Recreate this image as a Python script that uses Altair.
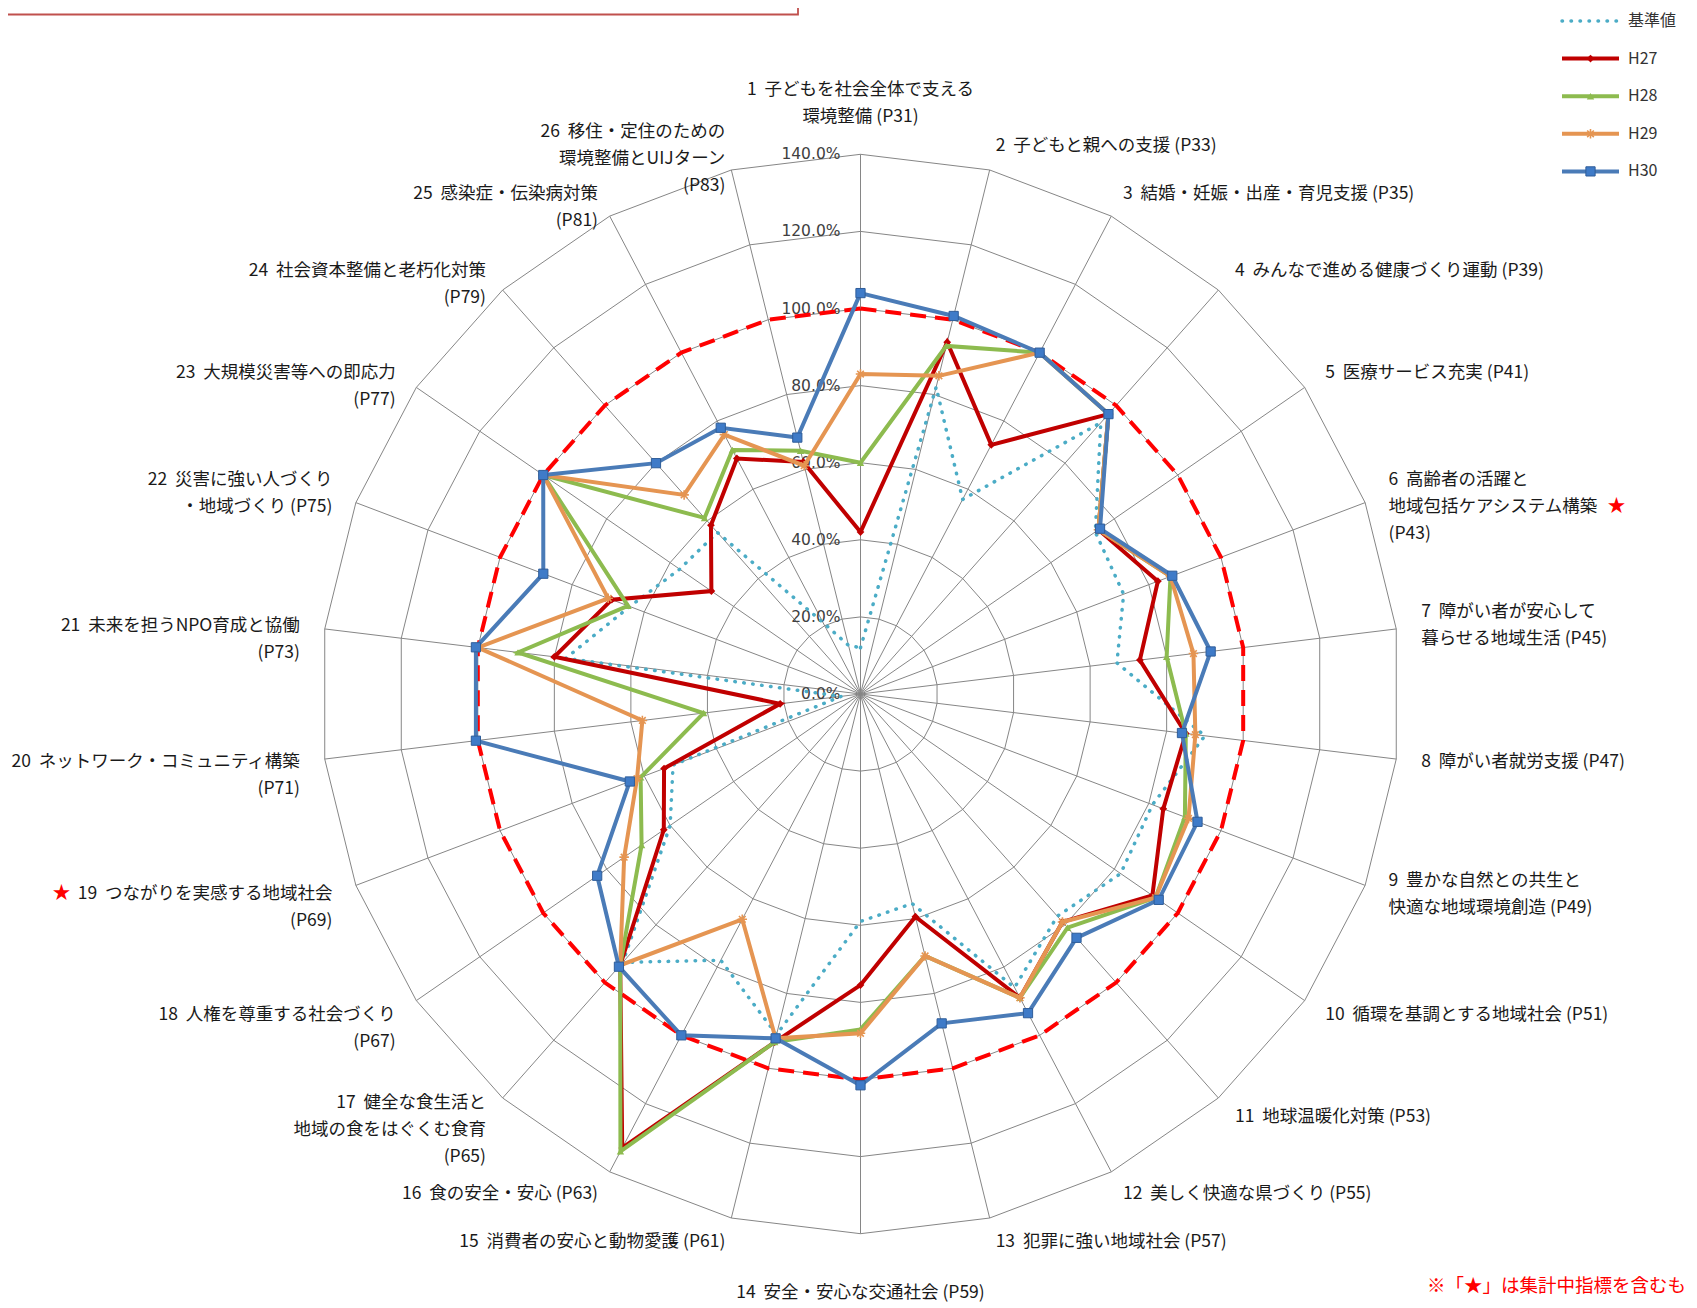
import math
import altair as alt
import pandas as pd

# ---------------- data ----------------
CATEGORIES = [
    "1  子どもを社会全体で支える\n環境整備 (P31)",
    "2  子どもと親への支援 (P33)",
    "3  結婚・妊娠・出産・育児支援 (P35)",
    "4  みんなで進める健康づくり運動 (P39)",
    "5  医療サービス充実 (P41)",
    "6  高齢者の活躍と\n地域包括ケアシステム構築\n(P43)",
    "7  障がい者が安心して\n暮らせる地域生活 (P45)",
    "8  障がい者就労支援 (P47)",
    "9  豊かな自然との共生と\n快適な地域環境創造 (P49)",
    "10  循環を基調とする地域社会 (P51)",
    "11  地球温暖化対策 (P53)",
    "12  美しく快適な県づくり (P55)",
    "13  犯罪に強い地域社会 (P57)",
    "14  安全・安心な交通社会 (P59)",
    "15  消費者の安心と動物愛護 (P61)",
    "16  食の安全・安心 (P63)",
    "17  健全な食生活と\n地域の食をはぐくむ食育\n(P65)",
    "18  人権を尊重する社会づくり\n(P67)",
    "19  つながりを実感する地域社会\n(P69)",
    "20  ネットワーク・コミュニティ構築\n(P71)",
    "21  未来を担うNPO育成と協働\n(P73)",
    "22  災害に強い人づくり\n・地域づくり (P75)",
    "23  大規模災害等への即応力\n(P77)",
    "24  社会資本整備と老朽化対策\n(P79)",
    "25  感染症・伝染病対策\n(P81)",
    "26  移住・定住のための\n環境整備とUIJターン\n(P83)",
]

SERIES = ["基準値", "H27", "H28", "H29", "H30"]

KIJUN = [12, 82, 57, 94, 74, 73, 67, 90, 81, 82, 77, 86, 56,
         59, 91, 78, 93, 60, 52, 5, 77, 64, 57, 56, 21, 13]
H27 = [42, 94, 73, 97, 75, 82.5, 73, 85, 84, 92, 79, 89, 59.5,
       75.5, 93, 133, 94, 62, 54.5, 21, 80, 69, 47, 58.5, 69, 62]
H28 = [60, 93, 100, 97, 75, 86, 80, 85, 90, 93, 81, 89, 70,
       87, 93, 134, 94, 69, 61, 41, 89.5, 64.5, 100, 61, 71.5, 65]
H29 = [83, 85, 100, 97, 75, 86, 87, 87.5, 91, 93, 79, 89, 70,
       88, 92, 66, 94, 74.5, 62, 57, 100, 70, 100, 69, 76, 61]
H30 = [104, 101, 100, 97, 75.5, 86.5, 91.5, 84, 93.5, 94, 84.5, 93.5, 88,
       101.5, 92, 100, 94.5, 83, 64, 100.5, 100.5, 88, 100, 80, 78, 68.5]

TARGET = 100.0
RING_VALUES = [0, 20, 40, 60, 80, 100, 120, 140]
TICK_LABELS = ["0.0%", "20.0%", "40.0%", "60.0%", "80.0%", "100.0%", "120.0%", "140.0%"]
STARRED = [6, 19]
FOOTNOTE = "※「★」は集計中指標を含むも"

# ---------------- layout ----------------
W, H = 1680, 1298
MARGIN = 8
CXP, CYP = 860.5, 694.0          # centre in page pixels
CX, CY = CXP - MARGIN, CYP - MARGIN
PX = 3.855                        # pixels per 1 %
N = len(CATEGORIES)
FS = 17.5
LH = 27
R_LABEL = 146.5

XS = alt.Scale(domain=[-CX / PX, (W - CX) / PX], nice=False, zero=False)
YS = alt.Scale(domain=[-(H - CY) / PX, CY / PX], nice=False, zero=False)


def px_x(p):
    return (p - MARGIN - CX) / PX


def px_y(p):
    return (CY - (p - MARGIN)) / PX


def xenc(f="x"):
    return alt.X(f"{f}:Q", scale=XS, axis=None)


def yenc(f="y"):
    return alt.Y(f"{f}:Q", scale=YS, axis=None)


CALC_X = "datum.value * sin(2 * PI * datum.k / %d)" % N
CALC_Y = "datum.value * cos(2 * PI * datum.k / %d)" % N


def closed(values, name):
    return pd.DataFrame([{"series": name, "order": j, "k": j % N, "value": values[j % N]}
                         for j in range(N + 1)])


COLORS = {"基準値": "#4BACC6", "H27": "#C00000", "H28": "#8DBB4F",
          "H29": "#E59552", "H30": "#4A7BB7"}
ASTER = "M-1,0L1,0M0,-1L0,1M-0.7,-0.7L0.7,0.7M-0.7,0.7L0.7,-0.7"
MARKERS = {
    "H27": dict(shape="diamond", size=60, filled=True, color=COLORS["H27"]),
    "H28": dict(shape="triangle-up", size=55, filled=True, color=COLORS["H28"]),
    "H29": dict(shape=ASTER, size=90, filled=False, color=COLORS["H29"], strokeWidth=1.6),
    "H30": dict(shape="square", size=85, filled=True, fill="#3F7BC8", stroke="#2F5D99",
                strokeWidth=1),
}
LINESTYLE = {
    "基準値": dict(strokeWidth=3.5, strokeDash=[0.5, 8.5], strokeCap="round"),
    "H27": dict(strokeWidth=4),
    "H28": dict(strokeWidth=4),
    "H29": dict(strokeWidth=4),
    "H30": dict(strokeWidth=4),
}
VALUES = {"基準値": KIJUN, "H27": H27, "H28": H28, "H29": H29, "H30": H30}

layers = []

# decorative box at top-left
box = pd.DataFrame([{"x": px_x(-3), "x2": px_x(798), "y": px_y(-10), "y2": px_y(14.5)}])
layers.append(alt.Chart(box).mark_rect(fillOpacity=0, stroke="#C0504D", strokeWidth=1.8)
              .encode(x=xenc(), x2="x2:Q", y=yenc(), y2="y2:Q"))

# grid rings
ring_rows = []
for r in RING_VALUES[1:]:
    for j in range(N + 1):
        ring_rows.append({"ring": r, "order": j, "k": j % N, "value": r})
rings = pd.DataFrame(ring_rows)
layers.append(alt.Chart(rings).transform_calculate(x=CALC_X, y=CALC_Y)
              .mark_line(color="#868686", strokeWidth=1)
              .encode(x=xenc(), y=yenc(), detail="ring:N", order="order:Q"))

# spokes
spokes = pd.DataFrame({"k": list(range(N)), "value": [RING_VALUES[-1]] * N})
layers.append(alt.Chart(spokes).transform_calculate(x=CALC_X, y=CALC_Y, x0="0", y0="0")
              .mark_rule(color="#868686", strokeWidth=1)
              .encode(x=xenc("x0"), y=yenc("y0"), x2="x:Q", y2="y:Q"))

# tick labels
ticks = pd.DataFrame({"value": RING_VALUES, "label": TICK_LABELS})
layers.append(alt.Chart(ticks).transform_calculate(x0="0")
              .mark_text(align="right", baseline="middle", dx=-20, font="DejaVu Sans",
                         fontSize=15.5, color="#404040")
              .encode(x=xenc("x0"), y=yenc("value"), text="label:N"))

# 100% dashed reference polygon
layers.append(alt.Chart(closed([TARGET] * N, "target")).transform_calculate(x=CALC_X, y=CALC_Y)
              .mark_line(color="#FF0000", strokeWidth=4, strokeDash=[16, 9])
              .encode(x=xenc(), y=yenc(), order="order:Q"))

# series
for s in SERIES:
    df = closed(VALUES[s], s)
    base = alt.Chart(df).transform_calculate(x=CALC_X, y=CALC_Y)
    layers.append(base.mark_line(color=COLORS[s], **LINESTYLE[s])
                  .encode(x=xenc(), y=yenc(), order="order:Q"))
    if s in MARKERS:
        layers.append(base.transform_filter(f"datum.order < {N}")
                      .mark_point(opacity=1, **MARKERS[s])
                      .encode(x=xenc(), y=yenc()))


# category labels (runs of spaces kept visible with no-break spaces)
def keep_spaces(t):
    return t.replace("  ", "\u00a0\u00a0")


def text_width(t):
    w = 0.0
    for ch in t:
        if ch in (" ", "\u00a0"):
            w += 0.224
        elif ord(ch) < 128:
            w += 0.56
        else:
            w += 1.0
    return w * FS


lab_rows = []
star_rows = []
for k, cat in enumerate(CATEGORIES):
    lines = [keep_spaces(t) for t in cat.split("\n")]
    n = len(lines)
    ang = 2 * math.pi * k / N
    s_, c_ = math.sin(ang), math.cos(ang)
    if abs(s_) < 0.05:
        side = "C"
    elif s_ > 0:
        side = "R"
    else:
        side = "L"
    if side == "C" and c_ > 0:
        a = n - 1 + 0.45
    elif side == "C":
        a = -1.26
    elif lines[-1].startswith("("):
        a = (n - 2) / 2
    else:
        a = (n - 1) / 2
    for j, t in enumerate(lines):
        xx = R_LABEL * s_
        yy = R_LABEL * c_ - (j - a) * LH / PX
        lab_rows.append({"k": k, "text": t, "side": side, "x": xx, "y": yy})
        if (k + 1) in STARRED:
            if side == "R" and j == 1:
                star_rows.append({"x": xx + (text_width(t) + 18) / PX, "y": yy, "text": "★"})
            if side == "L" and j == 0:
                star_rows.append({"x": xx - (text_width(t) + 16) / PX, "y": yy, "text": "★"})
labels = pd.DataFrame(lab_rows)
for side, al in (("L", "right"), ("R", "left"), ("C", "center")):
    layers.append(alt.Chart(labels).transform_filter(f"datum.side == '{side}'")
                  .mark_text(align=al, baseline="middle", font="Noto Sans CJK JP",
                             fontSize=FS, color="#1a1a1a")
                  .encode(x=xenc(), y=yenc(), text="text:N"))
stars = pd.DataFrame(star_rows)
layers.append(alt.Chart(stars).mark_text(align="center", baseline="middle",
                                         font="Noto Sans CJK JP", fontSize=18, color="#FF0000")
              .encode(x=xenc(), y=yenc(), text="text:N"))

# legend (drawn manually)
LEG_X0, LEG_X1, LEG_TX, LEG_Y0, LEG_DY = 1562, 1619, 1628, 21, 37.6
leg = pd.DataFrame([{"series": s, "x": px_x(LEG_X0), "x2": px_x(LEG_X1),
                     "xm": px_x((LEG_X0 + LEG_X1) / 2), "xt": px_x(LEG_TX),
                     "y": px_y(LEG_Y0 + i * LEG_DY)} for i, s in enumerate(SERIES)])
for s in SERIES:
    one = alt.Chart(leg).transform_filter(f"datum.series == '{s}'")
    layers.append(one.mark_rule(color=COLORS[s], **LINESTYLE[s])
                  .encode(x=xenc(), x2="x2:Q", y=yenc()))
    if s in MARKERS:
        layers.append(one.mark_point(opacity=1, **MARKERS[s]).encode(x=xenc("xm"), y=yenc()))
layers.append(alt.Chart(leg).mark_text(align="left", baseline="middle",
                                       font="Noto Sans CJK JP", fontSize=16, color="#333333")
              .encode(x=xenc("xt"), y=yenc(), text="series:N"))

# footnote
foot = pd.DataFrame([{"x": px_x(1427), "y": px_y(1286), "text": FOOTNOTE}])
layers.append(alt.Chart(foot).mark_text(align="left", baseline="middle", font="Noto Sans CJK JP",
                                        fontSize=18.5, color="#FF0000")
              .encode(x=xenc(), y=yenc(), text="text:N"))

chart = (alt.layer(*layers)
         .properties(width=W, height=H, autosize=alt.AutoSizeParams(type="none"), padding=0)
         .configure_view(stroke=None))

chart.save("out.html", embed_options={"renderer": "svg", "actions": False})
